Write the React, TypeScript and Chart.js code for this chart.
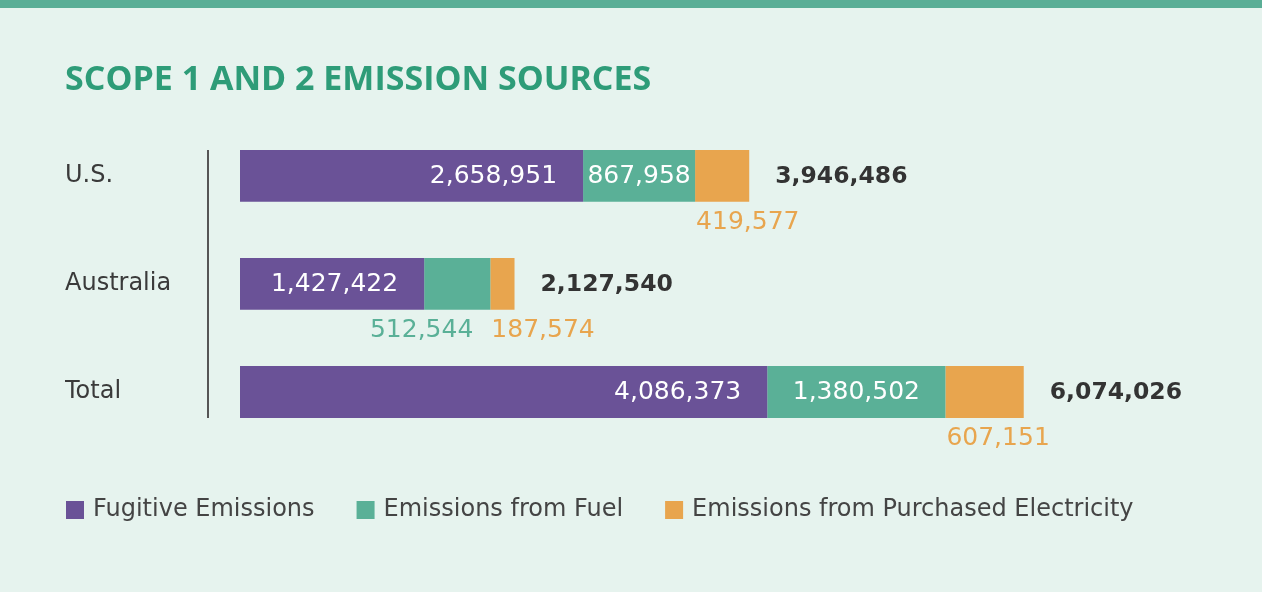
import React, { useEffect, useRef } from "react";
import { Chart, registerables } from "chart.js";
Chart.register(...registerables);

const categories = ["U.S.", "Australia", "Total"];
const fugitive = [2658951, 1427422, 4086373];
const fuel = [867958, 512544, 1380502];
const electricity = [419577, 187574, 607151];
const totals = [3946486, 2127540, 6074026];
const seriesNames = ["Fugitive Emissions", "Emissions from Fuel", "Emissions from Purchased Electricity"];
const seriesColors = ["#6a5297", "#5ab097", "#e8a54e"];
const titleText = "SCOPE 1 AND 2 EMISSION SOURCES";
const xMax = 7750000;

const BG = "#e6f3ee";
const TOPBAR = "#5aae96";
const TITLE_COLOR = "#2e9c78";
const TEXT = "#333333";
const NUM_FONT = "25px 'DejaVu Sans'";
const NUM_BOLD = "bold 23.5px 'DejaVu Sans'";

const fmt = (v: number) => v.toLocaleString("en-US");

const bgPlugin = {
  id: "bg",
  beforeDraw(chart: any) {
    const { ctx, width, height } = chart;
    ctx.save();
    ctx.fillStyle = BG;
    ctx.fillRect(0, 0, width, height);
    ctx.fillStyle = TOPBAR;
    ctx.fillRect(0, 0, width, 8);
    ctx.restore();
  },
};

const axisLinePlugin = {
  id: "axisLine",
  afterDatasetsDraw(chart: any) {
    const { ctx, chartArea } = chart;
    const meta = chart.getDatasetMeta(0);
    const first = meta.data[0];
    const last = meta.data[meta.data.length - 1];
    const x = chartArea.left - 32;
    ctx.save();
    ctx.strokeStyle = "#555555";
    ctx.lineWidth = 2;
    ctx.beginPath();
    ctx.moveTo(x, first.y - first.height / 2);
    ctx.lineTo(x, last.y + last.height / 2);
    ctx.stroke();
    ctx.restore();
  },
};

const labelPlugin = {
  id: "valueLabels",
  afterDatasetsDraw(chart: any) {
    const { ctx } = chart;
    ctx.save();
    ctx.textBaseline = "middle";
    const m0 = chart.getDatasetMeta(0);
    const m1 = chart.getDatasetMeta(1);
    const m2 = chart.getDatasetMeta(2);
    categories.forEach((_, i) => {
      const b0 = m0.data[i];
      const b1 = m1.data[i];
      const b2 = m2.data[i];
      const below = b0.y + b0.height / 2 + 21;
      // fugitive
      ctx.font = NUM_FONT;
      ctx.fillStyle = "#ffffff";
      ctx.textAlign = "right";
      ctx.fillText(fmt(fugitive[i]), b0.x - 26, b0.y + 1);
      // fuel
      const fuelText = fmt(fuel[i]);
      const w = ctx.measureText(fuelText).width;
      const segW = b1.x - b1.base;
      if (w + 8 < segW) {
        ctx.textAlign = "center";
        ctx.fillStyle = "#ffffff";
        ctx.fillText(fuelText, (b1.x + b1.base) / 2, b1.y + 1);
      } else {
        ctx.textAlign = "right";
        ctx.fillStyle = seriesColors[1];
        ctx.fillText(fuelText, b1.x - 17, below);
      }
      // electricity
      ctx.textAlign = "left";
      ctx.fillStyle = seriesColors[2];
      ctx.fillText(fmt(electricity[i]), b2.base + 1, below);
      // total
      ctx.font = NUM_BOLD;
      ctx.fillStyle = TEXT;
      ctx.fillText(fmt(totals[i]), b2.x + 26, b2.y + 1);
    });
    ctx.restore();
  },
};

const legendPlugin = {
  id: "customLegend",
  afterDraw(chart: any) {
    const { ctx } = chart;
    ctx.save();
    ctx.font = "24px 'DejaVu Sans'";
    ctx.textBaseline = "middle";
    ctx.textAlign = "left";
    let x = 66;
    const yc = 510;
    chart.data.datasets.forEach((ds: any) => {
      ctx.fillStyle = ds.backgroundColor;
      ctx.fillRect(x, yc - 9, 18, 18);
      ctx.fillStyle = "#444444";
      ctx.fillText(ds.label, x + 27, yc);
      x += 27 + ctx.measureText(ds.label).width + 42;
    });
    ctx.restore();
  },
};

export default function App() {
  const ref = useRef<HTMLCanvasElement>(null);
  useEffect(() => {
    document.body.style.margin = "0";
    const chart = new Chart(ref.current!, {
      type: "bar",
      data: {
        labels: categories,
        datasets: [
          { label: seriesNames[0], data: fugitive, backgroundColor: seriesColors[0] },
          { label: seriesNames[1], data: fuel, backgroundColor: seriesColors[1] },
          { label: seriesNames[2], data: electricity, backgroundColor: seriesColors[2] },
        ],
      },
      options: {
        indexAxis: "y",
        responsive: false,
        animation: false,
        events: [],
        datasets: { bar: { categoryPercentage: 1, barPercentage: 0.48, borderWidth: 0 } },
        layout: { padding: { left: 65, right: 22, top: 0, bottom: 146 } },
        scales: {
          x: { stacked: true, display: false, min: 0, max: xMax },
          y: {
            stacked: true,
            grid: { display: false },
            border: { display: false },
            ticks: {
              crossAlign: "far",
              color: "#3a3a3a",
              font: { family: "'DejaVu Sans'", size: 24 },
            },
            afterFit(scale: any) {
              scale.width = 175;
            },
          },
        },
        plugins: {
          legend: { display: false },
          tooltip: { enabled: false },
          title: {
            display: true,
            text: titleText,
            align: "start",
            color: TITLE_COLOR,
            font: { family: "'Open Sans'", size: 34, weight: "bold" },
            padding: { top: 60, bottom: 21 },
          },
        },
      },
      plugins: [bgPlugin, axisLinePlugin, labelPlugin, legendPlugin],
    } as any);
    return () => chart.destroy();
  }, []);
  return (
    <div style={{ position: "fixed", left: 0, top: 0, width: 1262, height: 592 }}>
      <canvas ref={ref} width={1262} height={592} style={{ display: "block" }} />
    </div>
  );
}
